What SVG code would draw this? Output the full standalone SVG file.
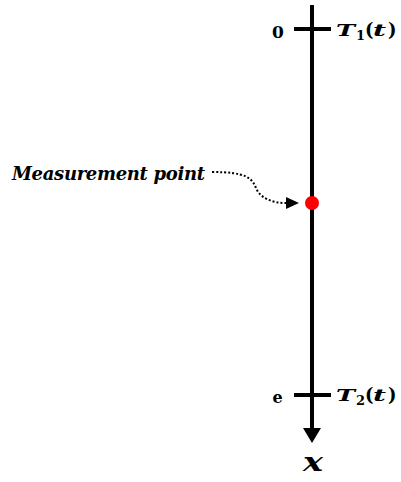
<svg xmlns="http://www.w3.org/2000/svg" width="401" height="482" viewBox="0 0 401 482">
<style>
.lbl{font-family:'DejaVu Serif',serif;font-weight:bold;fill:#000}
.it{font-style:italic}
.axis{stroke:#000;stroke-width:4;fill:none}
.dot{stroke:#000;stroke-width:2;stroke-dasharray:2 2;fill:none}
</style>
<defs>
<marker id="ah" viewBox="0 0 13 12" refX="0" refY="6" markerWidth="13" markerHeight="12" markerUnits="userSpaceOnUse" orient="auto">
<path d="M0,0 L13,6 L0,12 Z" fill="#000"/>
</marker>
</defs>
<g id="axis">
<line class="axis" x1="312" y1="5" x2="312" y2="430"/>
<path d="M303,428 L321,428 L312,443 Z" fill="#000"/>
<text class="lbl it" x="303" y="471" style="font-size:26px" textLength="20" lengthAdjust="spacingAndGlyphs">x</text>
</g>
<g id="node-0">
<line class="axis" x1="294" y1="29" x2="331" y2="29"/>
<text class="lbl" x="278" y="37.5" style="font-size:17px" text-anchor="middle">0</text>
<text class="lbl it" x="336" y="36" style="font-size:17px" textLength="19" lengthAdjust="spacingAndGlyphs">T</text>
<text class="lbl" x="356" y="40" style="font-size:13px">1</text>
<text class="lbl" x="365" y="36" style="font-size:18px">(</text>
<text class="lbl it" x="373" y="36" style="font-size:17px" textLength="13" lengthAdjust="spacingAndGlyphs">t</text>
<text class="lbl" x="388" y="36" style="font-size:18px">)</text>
</g>
<g id="node-e">
<line class="axis" x1="294" y1="395" x2="331" y2="395"/>
<text class="lbl" x="277.5" y="403" style="font-size:16px" text-anchor="middle">e</text>
<text class="lbl it" x="336" y="401" style="font-size:17px" textLength="19" lengthAdjust="spacingAndGlyphs">T</text>
<text class="lbl" x="356" y="405" style="font-size:13px">2</text>
<text class="lbl" x="365" y="401" style="font-size:18px">(</text>
<text class="lbl it" x="373" y="401" style="font-size:17px" textLength="13" lengthAdjust="spacingAndGlyphs">t</text>
<text class="lbl" x="388" y="401" style="font-size:18px">)</text>
</g>
<g id="measurement-point">
<circle cx="312" cy="203" r="7" fill="#ff0000"/>
<text class="lbl it" x="12" y="180" style="font-size:18px" textLength="193">Measurement point</text>
</g>
<g id="connectors">
<path class="dot" d="M212,172 C246,172 252,178 256,188 C260,198 272,203 286,203" marker-end="url(#ah)"/>
</g>
</svg>
